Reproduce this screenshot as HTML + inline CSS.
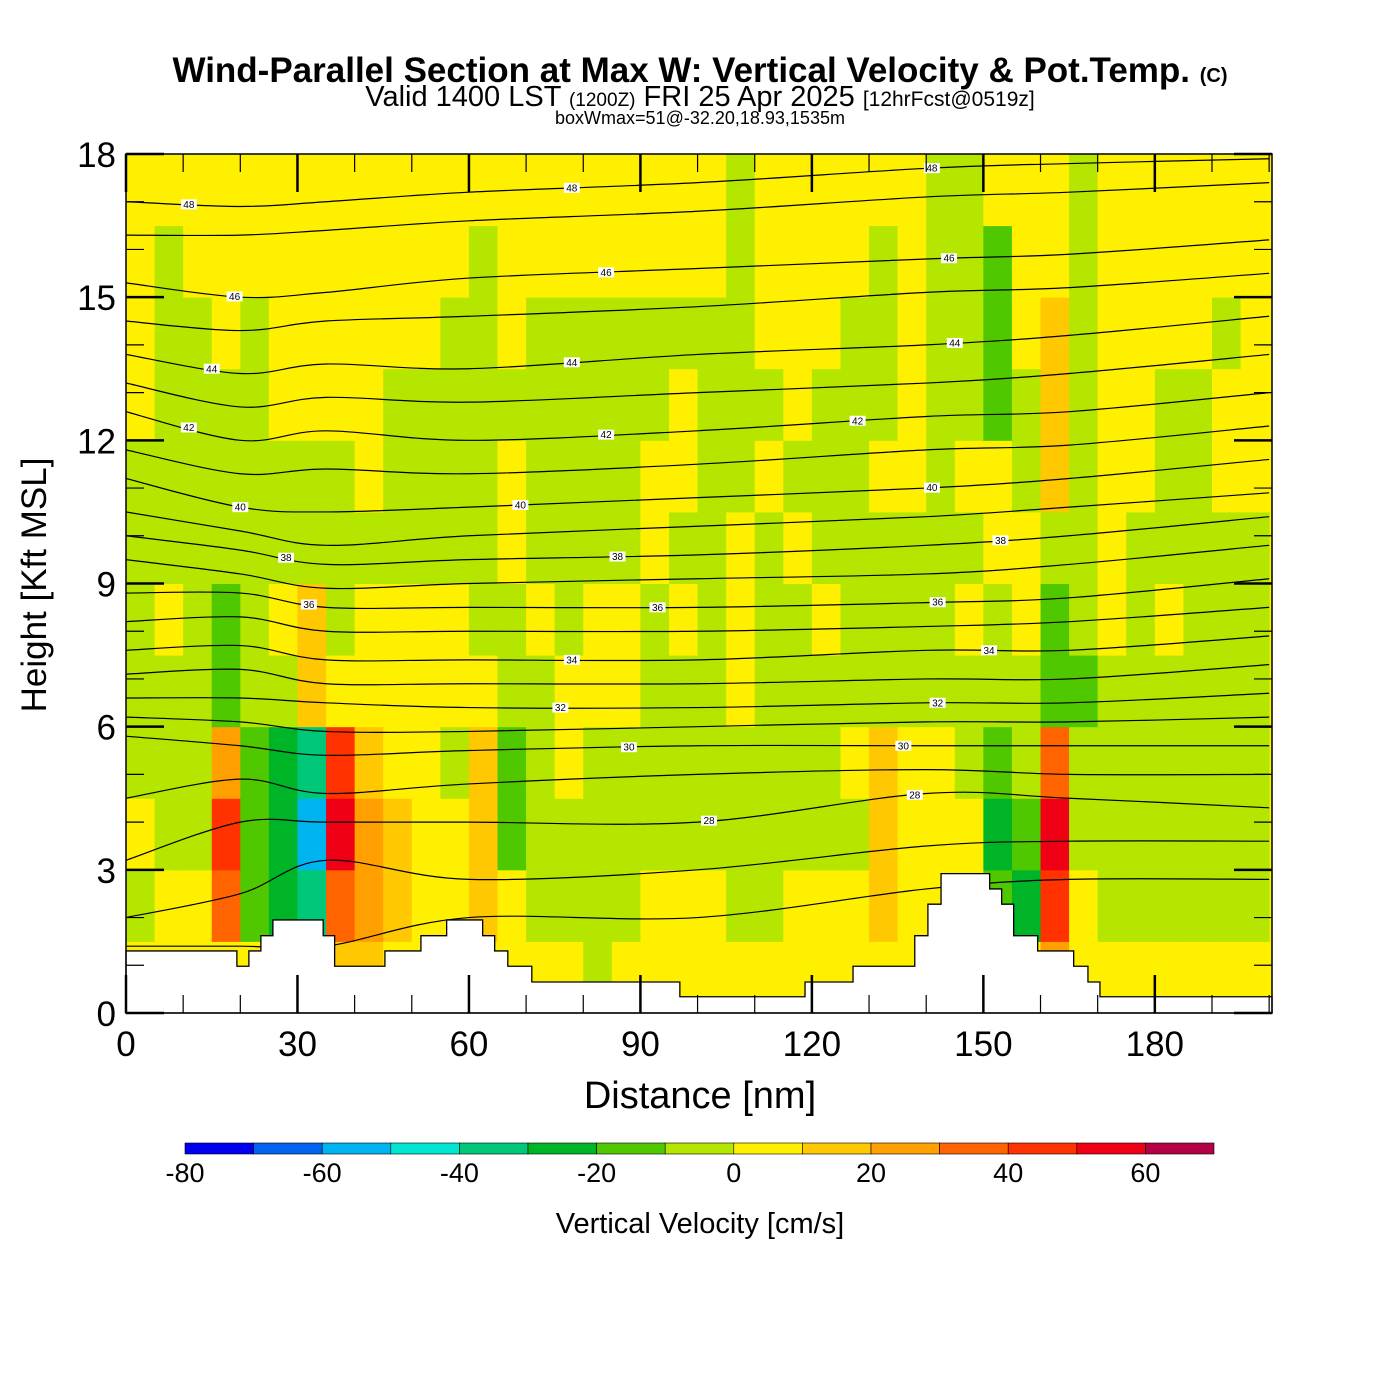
<!DOCTYPE html>
<html><head><meta charset="utf-8">
<style>
body{margin:0;background:#fff;}
svg{display:block;font-family:"Liberation Sans",sans-serif;}
</style></head>
<body>
<svg id="chart" width="1400" height="1400" viewBox="0 0 1400 1400" xmlns="http://www.w3.org/2000/svg">
<rect width="1400" height="1400" fill="#fff"/>
<text x="700" y="82" text-anchor="middle" font-size="35" font-weight="bold">Wind-Parallel Section at Max W: Vertical Velocity &amp; Pot.Temp. <tspan font-size="20">(C)</tspan></text>
<text x="700" y="106" text-anchor="middle" font-size="29">Valid 1400 LST <tspan font-size="19">(1200Z)</tspan> FRI 25 Apr 2025 <tspan font-size="21">[12hrFcst@0519z]</tspan></text>
<text x="700" y="124" text-anchor="middle" font-size="18">boxWmax=51@-32.20,18.93,1535m</text>
<g id="field"></g>
<g id="contours"></g>
<g id="terrain"></g>
<g id="clabels"></g>
<g id="axes"></g>
<g id="cbar"></g>
<text x="700" y="1108" text-anchor="middle" font-size="38">Distance [nm]</text>
<text transform="translate(46,585) rotate(-90)" text-anchor="middle" font-size="35">Height [Kft MSL]</text>
<text x="700" y="1233" text-anchor="middle" font-size="29">Vertical Velocity [cm/s]</text>
</svg>
<script>
// ---- data ----
const colBins = [-80,-70,-60,-50,-40,-30,-20,-10,0,10,20,30,40,50,60,70];
const colColors = ["#0000f0","#0064f0","#00b4f0","#00e6d2","#00c878","#00b428","#50c800","#b4e600","#fff000","#ffc800","#ffa000","#ff6400","#ff3200","#f00014","#b40046"];
const cbarTicks = [-80,-60,-40,-20,0,20,40,60];
const xTicks = [0,30,60,90,120,150,180];
const yTicks = [0,3,6,9,12,15,18];
const colWidthNm = 5;
const rowHeightKft = 1.5;
// rows bottom (0-1.5 kft) to top (16.5-18 kft), 40 columns of 5 nm
const w0 = [5,5,5,5,5,5,5,15,15,5, 5,5,5,5,5,5,-5,5,5,5, 5,5,5,5,5,5,5,5,5,5, 5,5,25,5,5,5,5,5,5,5];
const w1 = [-5,5,5,35,-15,-25,-35,35,25,15, 5,5,15,5,-5,-5,-5,-5,5,5, 5,-5,-5,5,5,5,15,5,5,5, -15,-25,40,5,-5,-5,-5,-5,-5,-5];
const w2 = [5,-5,-5,45,-15,-25,-55,50,25,15, 5,5,15,-15,-5,-5,-5,-5,-5,-5, -5,-5,-5,-5,-5,-5,15,5,5,5, -25,-15,55,-5,-5,-5,-5,-5,-5,-5];
const w3 = [-5,-5,-5,25,-15,-25,-35,45,15,5, 5,-5,15,-15,-5,5,-5,-5,-5,-5, -5,-5,-5,-5,-5,5,15,5,5,-5, -15,-5,35,-5,-5,-5,-5,-5,-5,-5];
const w4 = [-5,-5,-5,-15,-5,-5,15,5,5,5, 5,5,5,-5,-5,5,5,5,-5,-5, -5,5,-5,-5,-5,-5,-5,-5,-5,-5, -5,-5,-15,-15,-5,-5,-5,-5,-5,-5];
const w5 = [-5,5,-5,-15,-5,5,15,-5,5,5, 5,5,-5,-5,5,-5,5,5,-5,5, -5,5,-5,-5,5,-5,-5,-5,-5,5, -5,5,-15,-5,5,-5,5,-5,-5,-5];
const w6 = [-5,-5,-5,-5,-5,-5,-5,-5,-5,-5, -5,-5,-5,5,-5,-5,-5,-5,5,-5, -5,5,-5,5,-5,-5,-5,-5,-5,-5, 5,5,-5,-5,5,-5,-5,-5,-5,-5];
const w7 = [-5,-5,-5,-5,-5,-5,-5,-5,5,-5, -5,-5,-5,5,-5,-5,-5,-5,5,5, -5,-5,5,-5,-5,-5,5,5,-5,5, 5,-5,15,-5,5,5,-5,-5,5,5];
const w8 = [5,-5,-5,-5,-5,5,5,5,5,-5, -5,-5,-5,-5,-5,-5,-5,-5,-5,5, -5,-5,-5,5,-5,-5,-5,5,-5,-5, -15,-5,15,-5,5,5,-5,-5,5,5];
const w9 = [5,-5,-5,5,-5,5,5,5,5,5, 5,-5,-5,5,-5,-5,-5,-5,-5,-5, -5,-5,5,5,5,-5,-5,5,-5,-5, -15,5,15,-5,5,5,5,5,-5,5];
const w10 = [5,-5,5,5,5,5,5,5,5,5, 5,5,-5,5,5,5,5,5,5,5, 5,-5,5,5,5,5,-5,5,-5,-5, -15,5,5,-5,5,5,5,5,5,5];
const w11 = [5,5,5,5,5,5,5,5,5,5, 5,5,5,5,5,5,5,5,5,5, 5,-5,5,5,5,5,5,5,-5,-5, 5,5,5,-5,5,5,5,5,5,5];
const wRows = [w0,w1,w2,w3,w4,w5,w6,w7,w8,w9,w10,w11];
// terrain steps: start distance (nm) and height (kft)
const terrX = [0,19.4,21.5,23.6,25.7,34.5,36.5,45.3,51.6,56.1,62.4,64.5,66.8,71,96.9,118.8,127.2,138,140.3,142.6,151.1,153.2,155.3,159.5,165.8,168.3,170.4];
const terrH = [1.3,0.98,1.3,1.62,1.95,1.62,0.98,1.3,1.62,1.95,1.62,1.3,0.98,0.65,0.34,0.65,0.98,1.62,2.28,2.92,2.6,2.28,1.62,1.3,0.98,0.65,0.34];
// theta contours: heights (kft) at anchor distances
const thetaAnchors = [0,20,35,60,100,140,165,200];
const thetaLevels = [26,27,28,29,30,31,32,33,34,35,36,37,38,39,40,41,42,43,44,45,46,47,48];
const th26=[1.4,1.4,1.4,2.0,2.0,2.6,2.8,2.8];
const th27=[2.0,2.5,3.2,2.8,3.0,3.5,3.6,3.6];
const th28=[3.2,4.0,4.0,4.0,4.0,4.6,4.5,4.3];
const th29=[4.5,4.9,4.6,4.8,5.0,5.1,5.0,5.0];
const th30=[5.8,5.6,5.4,5.5,5.6,5.6,5.6,5.6];
const th31=[6.2,6.1,5.9,5.9,6.0,6.1,6.1,6.2];
const th32=[6.6,6.6,6.5,6.4,6.4,6.5,6.5,6.7];
const th33=[7.1,7.2,6.9,6.9,6.9,7.0,7.0,7.3];
const th34=[7.6,7.7,7.4,7.4,7.4,7.6,7.6,7.9];
const th35=[8.2,8.3,8.0,8.0,8.0,8.1,8.2,8.5];
const th36=[8.8,8.8,8.5,8.5,8.5,8.6,8.7,9.1];
const th37=[9.5,9.2,8.9,9.0,9.1,9.2,9.4,9.8];
const th38=[10.0,9.7,9.4,9.5,9.6,9.8,10.0,10.4];
const th39=[10.5,10.1,9.8,10.0,10.2,10.4,10.6,10.9];
const th40=[11.2,10.6,10.5,10.6,10.8,11.0,11.2,11.6];
const th41=[11.8,11.3,11.4,11.3,11.5,11.8,11.9,12.3];
const th42=[12.6,12.0,12.2,12.0,12.2,12.5,12.6,13.0];
const th43=[13.2,12.7,12.9,12.8,13.0,13.2,13.4,13.8];
const th44=[13.8,13.4,13.6,13.5,13.8,14.0,14.2,14.6];
const th45=[14.5,14.3,14.5,14.6,14.8,15.1,15.2,15.5];
const th46=[15.3,15.0,15.1,15.4,15.6,15.8,15.9,16.2];
const th47=[16.3,16.3,16.4,16.6,16.8,17.1,17.2,17.4];
const th48=[17.0,16.9,17.0,17.2,17.4,17.7,17.8,17.9];
const thetaRows=[th26,th27,th28,th29,th30,th31,th32,th33,th34,th35,th36,th37,th38,th39,th40,th41,th42,th43,th44,th45,th46,th47,th48];
// contour labels: level, distance
const labLevel = [48,48,48,46,46,46,44,44,44,42,42,42,40,40,40,38,38,38,36,36,36,34,34,32,32,30,30,28,28];
const labDist  = [11,78,141,19,84,144,15,78,145,11,84,128,20,69,141,28,86,153,32,93,142,78,151,76,142,88,136,102,138];

// ---- scales ----
const X0=126, X1=1272, XMAX=200.5, Y0=1013, Y1=154, YMAX=18;
const sx = d => X0 + d*(X1-X0)/XMAX;
const sy = h => Y0 - h*(Y0-Y1)/YMAX;
const NS="http://www.w3.org/2000/svg";
function mk(tag, parent, attrs){const e=document.createElementNS(NS,tag);for(const k in attrs)e.setAttribute(k,attrs[k]);parent.appendChild(e);return e;}
function colorFor(v){for(let i=0;i<colColors.length;i++){if(v>=colBins[i]&&v<colBins[i+1])return colColors[i];}return v<colBins[0]?colColors[0]:colColors[colColors.length-1];}

// field
const field=document.getElementById('field');
mk('rect',field,{x:X0,y:Y1,width:X1-X0,height:Y0-Y1,fill:"#fff000"});
wRows.forEach((row,r)=>{row.forEach((v,c)=>{
  const xa=sx(c*colWidthNm), xb=Math.min(sx((c+1)*colWidthNm),X1);
  const ya=sy((r+1)*rowHeightKft), yb=sy(r*rowHeightKft);
  const e=mk('rect',field,{x:xa,y:ya,width:xb-xa+0.5,height:yb-ya+0.5,fill:colorFor(v)});
  
  
});});

// contours
function interp(arr,d){for(let i=0;i<thetaAnchors.length-1;i++){if(d<=thetaAnchors[i+1]){const t=(d-thetaAnchors[i])/(thetaAnchors[i+1]-thetaAnchors[i]);return arr[i]+(arr[i+1]-arr[i])*t;}}return arr[arr.length-1];}
function smoothPath(pts){let d="M"+pts[0][0]+","+pts[0][1];for(let i=0;i<pts.length-1;i++){const p0=pts[Math.max(0,i-1)],p1=pts[i],p2=pts[i+1],p3=pts[Math.min(pts.length-1,i+2)];const c1=[p1[0]+(p2[0]-p0[0])/6,p1[1]+(p2[1]-p0[1])/6],c2=[p2[0]-(p3[0]-p1[0])/6,p2[1]-(p3[1]-p1[1])/6];d+=` C${c1[0]},${c1[1]} ${c2[0]},${c2[1]} ${p2[0]},${p2[1]}`;}return d;}
const cg=document.getElementById('contours');
thetaRows.forEach((arr,i)=>{
  const pts=thetaAnchors.map((d,j)=>[sx(Math.min(d,XMAX)),sy(arr[j])]);
  const e=mk('path',cg,{d:smoothPath(pts),fill:"none",stroke:"#000","stroke-width":1.2});
  
  
});

// terrain
const tg=document.getElementById('terrain');
let td=`M${X0},${Y0}`;
terrX.forEach((x,i)=>{const xe=i<terrX.length-1?terrX[i+1]:XMAX;td+=` L${sx(x)},${sy(terrH[i])} L${sx(xe)},${sy(terrH[i])}`;});
td+=` L${X1},${Y0} Z`;
const tp=mk('path',tg,{d:td,fill:"#fff",stroke:"#000","stroke-width":1.3});



// contour labels
const lg=document.getElementById('clabels');
labLevel.forEach((lv,i)=>{
  const arr=thetaRows[thetaLevels.indexOf(lv)];
  const x=sx(labDist[i]), y=sy(interp(arr,labDist[i]));
  const g=mk('g',lg,{});
  
  
  mk('rect',g,{x:x-8,y:y-5,width:16,height:10,fill:"#fff"});
  const t=mk('text',g,{x:x,y:y+3.5,"text-anchor":"middle","font-size":10});
  t.textContent=lv;
});

// axes
const ag=document.getElementById('axes');
mk('rect',ag,{x:X0,y:Y1,width:X1-X0,height:Y0-Y1,fill:"none",stroke:"#000","stroke-width":1.5});
for(let d=0;d<=XMAX;d+=10){const major=d%30===0;const L=major?38:18;
  mk('line',ag,{x1:sx(d),y1:Y0,x2:sx(d),y2:Y0-L,stroke:"#000","stroke-width":major?2.5:1.2});
  mk('line',ag,{x1:sx(d),y1:Y1,x2:sx(d),y2:Y1+L,stroke:"#000","stroke-width":major?2.5:1.2});}
for(let h=0;h<=YMAX;h+=1){const major=h%3===0;const L=major?38:18;
  mk('line',ag,{x1:X0,y1:sy(h),x2:X0+L,y2:sy(h),stroke:"#000","stroke-width":major?2.5:1.2});
  mk('line',ag,{x1:X1,y1:sy(h),x2:X1-L,y2:sy(h),stroke:"#000","stroke-width":major?2.5:1.2});}
xTicks.forEach(v=>{const t=mk('text',ag,{x:sx(v),y:Y0+43,"text-anchor":"middle","font-size":35});t.textContent=v;
  
  });
yTicks.forEach(v=>{const t=mk('text',ag,{x:X0-10,y:sy(v)+13,"text-anchor":"end","font-size":35});t.textContent=v;
  
  });

// colorbar
const cb=document.getElementById('cbar');
const CB0=185, CB1=1214, CBY=1143, CBH=11;
const cbx=v=>CB0+(v-colBins[0])*(CB1-CB0)/(colBins[colBins.length-1]-colBins[0]);
colColors.forEach((c,i)=>{const e=mk('rect',cb,{x:cbx(colBins[i]),y:CBY,width:cbx(colBins[i+1])-cbx(colBins[i]),height:CBH,fill:c,stroke:"#000","stroke-width":0.6});
  
  });
cbarTicks.forEach(v=>{const t=mk('text',cb,{x:cbx(v),y:1182,"text-anchor":"middle","font-size":27});t.textContent=v;
  
  });
</script>
</body></html>
